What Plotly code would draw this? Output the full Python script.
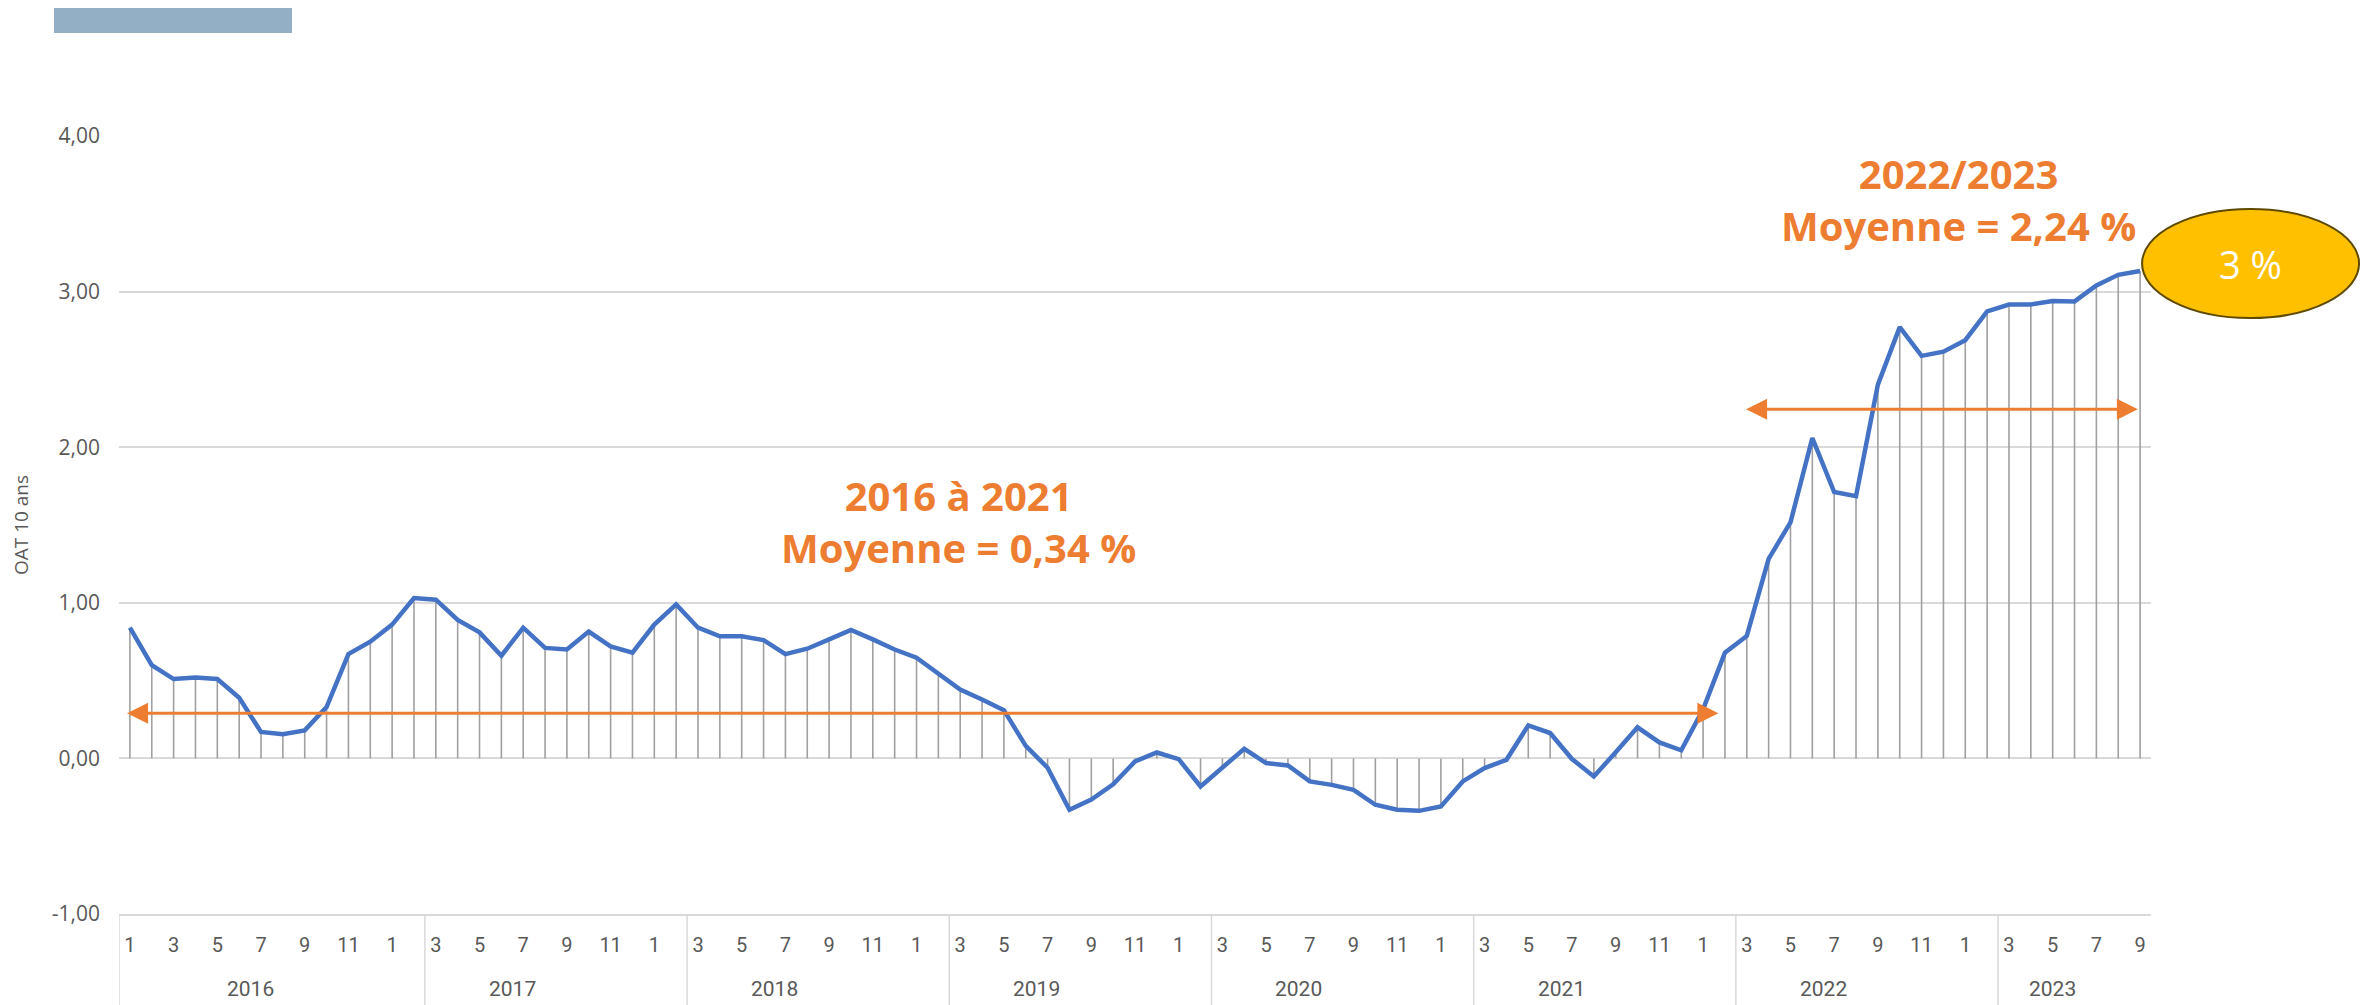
import plotly.graph_objects as go

# ---- data ----
start_year = 2016
n_months = 93  # Jan 2016 .. Sep 2023
oat_10y = [0.84, 0.60, 0.51, 0.52, 0.51, 0.39, 0.17, 0.155, 0.18, 0.33, 0.67, 0.75,
           0.86, 1.03, 1.02, 0.89, 0.81, 0.66, 0.84, 0.71, 0.70, 0.815, 0.72, 0.68,
           0.86, 0.99, 0.84, 0.785, 0.785, 0.76, 0.67, 0.705, 0.765, 0.825, 0.765, 0.70,
           0.647, 0.546, 0.443, 0.379, 0.31, 0.08, -0.06, -0.33, -0.265, -0.167, -0.02, 0.038,
           -0.005, -0.18, -0.056, 0.062, -0.03, -0.045, -0.148, -0.17, -0.202, -0.298, -0.33, -0.337,
           -0.309, -0.148, -0.062, -0.009, 0.212, 0.163, -0.004, -0.116, 0.039, 0.20, 0.103, 0.052,
           0.316, 0.68, 0.787, 1.282, 1.517, 2.059, 1.712, 1.685, 2.402, 2.772, 2.587, 2.614,
           2.688, 2.873, 2.917, 2.917, 2.94, 2.937, 3.04, 3.108, 3.132]
years = [2016, 2017, 2018, 2019, 2020, 2021, 2022, 2023]
group_sizes = [14, 12, 12, 12, 12, 12, 12, 7]   # months per category group on the axis
y_ticks = [-1, 0, 1, 2, 3, 4]
avg_low_label = ["2016 à 2021", "Moyenne = 0,34 %"]
avg_high_label = ["2022/2023", "Moyenne = 2,24 %"]
avg_low_y = 0.29
avg_high_y = 2.244
badge_text = "3 %"
y_title = "OAT 10 ans"

idx = list(range(n_months))
month_num = [(i % 12) + 1 for i in idx]

ORANGE = "#ED7D31"
BLUE = "#4472C4"
GREY_TXT = "#595959"
GRID = "#D9D9D9"

fig = go.Figure()

# vertical drop lines from each point to zero
fig.add_trace(go.Scatter(
    x=idx, y=oat_10y, mode="markers", marker=dict(size=0.1, color="rgba(0,0,0,0)"),
    error_y=dict(type="data", symmetric=False,
                 array=[max(-v, 0) for v in oat_10y],
                 arrayminus=[max(v, 0) for v in oat_10y],
                 color="#A0A0A0", thickness=1.6, width=0),
    hoverinfo="skip", showlegend=False))

fig.add_trace(go.Scatter(
    x=idx, y=oat_10y, mode="lines",
    line=dict(color=BLUE, width=4.5), showlegend=False))

# month tick labels (odd months)
tickvals = [i for i in idx if month_num[i] % 2 == 1]
ticktext = [str(month_num[i]) for i in tickvals]

fig.update_xaxes(
    range=[-0.5, n_months - 0.5], tickvals=tickvals, ticktext=ticktext,
    showgrid=False, zeroline=False, ticks="", ticklabelstandoff=12,
    showline=True, linecolor=GRID, linewidth=1.5,
    tickfont=dict(family="Liberation Sans Narrow, Roboto, sans-serif", size=20, color=GREY_TXT))

fig.update_yaxes(
    range=[-1, 4], tickvals=y_ticks,
    ticktext=[("%.2f" % v).replace(".", ",") for v in y_ticks],
    showgrid=True, gridcolor=GRID, gridwidth=1.5,
    zeroline=False, ticks="", ticklabelstandoff=18,
    tickfont=dict(family="Open Sans", size=21, color=GREY_TXT),
    title=dict(text=y_title, font=dict(family="Open Sans", size=19, color=GREY_TXT), standoff=18))

shapes = []
annotations = []

# group separators & year labels
b = -0.5
shapes.append(dict(type="line", xref="x", yref="paper", x0=b, x1=b, y0=0, y1=-0.12,
                   line=dict(color=GRID, width=1.5)))
for s in group_sizes[:-1]:
    b += s
    shapes.append(dict(type="line", xref="x", yref="paper", x0=b, x1=b, y0=0, y1=-0.12,
                       line=dict(color=GRID, width=1.5)))
for k, yr in enumerate(years):
    first = 12 * k
    last = min(12 * k + 11, n_months - 1)
    annotations.append(dict(x=(first + last) / 2, y=-0.097, xref="x", yref="paper",
                            text=str(yr), showarrow=False, yanchor="middle", xanchor="center",
                            font=dict(family="Liberation Sans Narrow, Roboto, sans-serif",
                                      size=21, color=GREY_TXT)))

# average arrows
annotations.append(dict(x=72.7, y=avg_low_y, ax=-0.2, ay=avg_low_y, xref="x", yref="y",
                        axref="x", ayref="y", text="", showarrow=True, arrowside="end+start",
                        arrowhead=2, arrowsize=1.4, arrowwidth=3, arrowcolor=ORANGE, standoff=0,
                        startstandoff=0, startarrowhead=2, startarrowsize=1.4))
annotations.append(dict(x=91.9, y=avg_high_y, ax=73.9, ay=avg_high_y, xref="x", yref="y",
                        axref="x", ayref="y", text="", showarrow=True, arrowside="end+start",
                        arrowhead=2, arrowsize=1.4, arrowwidth=3, arrowcolor=ORANGE, standoff=0,
                        startstandoff=0, startarrowhead=2, startarrowsize=1.4))

# average texts
annotations.append(dict(x=37.9, y=1.52, xref="x", yref="y", showarrow=False,
                        xanchor="center", yanchor="middle",
                        text="<b>" + "<br>".join(avg_low_label) + "</b>",
                        font=dict(family="Open Sans", size=40, color=ORANGE), align="center"))
annotations.append(dict(x=83.7, y=3.59, xref="x", yref="y", showarrow=False,
                        xanchor="center", yanchor="middle",
                        text="<b>" + "<br>".join(avg_high_label) + "</b>",
                        font=dict(family="Open Sans", size=40, color=ORANGE), align="center"))

# badge ellipse
shapes.append(dict(type="circle", xref="paper", yref="y", x0=0.9956, x1=1.1024, y0=2.83, y1=3.531,
                   fillcolor="#FFC000", line=dict(color="#5E4A00", width=2)))
annotations.append(dict(x=1.049, y=3.18, xref="paper", yref="y", text=badge_text, showarrow=False,
                        xanchor="center", yanchor="middle",
                        font=dict(family="Open Sans", size=38, color="white")))

# top-left decorative bar
shapes.append(dict(type="rect", xref="paper", yref="paper",
                   x0=(54 - 119) / 2032, x1=(292 - 119) / 2032,
                   y0=1 + (136 - 33) / 778, y1=1 + (136 - 6) / 778,
                   fillcolor="#93AFC6", line=dict(width=0)))

fig.update_layout(
    width=2366, height=997, autosize=False,
    margin=dict(l=111, r=223, t=128, b=91),
    plot_bgcolor="white", paper_bgcolor="white",
    showlegend=False,
    shapes=shapes, annotations=annotations,
    font=dict(family="Open Sans", color=GREY_TXT))

fig.write_html("out.html")
